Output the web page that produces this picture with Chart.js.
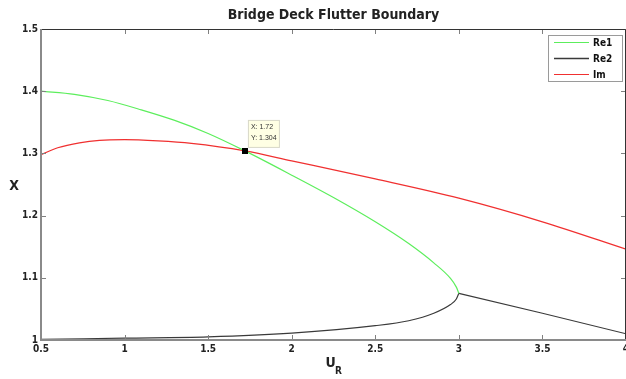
<!DOCTYPE html>
<html>
<head>
<meta charset="utf-8">
<script src="https://cdn.jsdelivr.net/npm/chart.js@4.4.1/dist/chart.umd.min.js"></script>
<style>
  html, body { margin: 0; padding: 0; background: #fff; }
  #wrap { width: 626px; height: 379px; }
</style>
</head>
<body>
<div id="wrap"><canvas id="chart" width="626" height="379"></canvas></div>
<script>
// values
const re1U = [0.5, 0.7, 0.9, 1.1, 1.3, 1.5, 1.72, 2.0, 2.25, 2.5, 2.7, 2.85, 2.95, 2.985, 3.0];
const re1X = [1.400, 1.395, 1.385, 1.370, 1.353, 1.332, 1.304, 1.265, 1.229, 1.190, 1.155, 1.124, 1.099, 1.085, 1.075];

const re2U = [0.5, 1.0, 1.5, 2.0, 2.5, 2.7, 2.85, 2.95, 2.985, 3.0];
const re2X = [1.001, 1.003, 1.005, 1.011, 1.023, 1.031, 1.043, 1.057, 1.066, 1.075];
const re2TailU = [3.0, 3.5, 4.0];
const re2TailX = [1.075, 1.043, 1.010];

const imU = [0.5, 0.6, 0.73, 0.85, 1.0, 1.2, 1.4, 1.72, 2.0, 2.5, 3.0, 3.5, 4.0];
const imX = [1.298, 1.309, 1.317, 1.321, 1.322, 1.320, 1.316, 1.304, 1.288, 1.259, 1.228, 1.190, 1.146];

const tipU = [1.72];
const tipX = [1.304];

const xTicks = [0.5, 1, 1.5, 2, 2.5, 3, 3.5, 4];
const yTicks = [1, 1.1, 1.2, 1.3, 1.4, 1.5];

const legendNames = ['Re1', 'Re2', 'Im'];
const legendColors = ['#5cee5c', '#3a3a3a', '#f03030'];

const FONT = "'Liberation Sans Narrow', 'DejaVu Sans Condensed', 'Liberation Sans', Arial, sans-serif";

const pts = (us, xs) => us.map((u, i) => ({ x: u, y: xs[i] }));
const fmt = v => String(Number(v.toFixed(2)));

// frame, inside tick marks, tick labels, title, axis names, legend and data tip
const decorPlugin = {
    id: 'decor',
    afterDatasetsDraw(chart) {
        const ctx = chart.ctx;
        const a = chart.chartArea;
        const xs = chart.scales.x;
        const ys = chart.scales.y;
        ctx.save();

        // tick marks pointing inward
        ctx.strokeStyle = '#808080';
        ctx.lineWidth = 1;
        ctx.beginPath();
        xTicks.forEach(v => {
            const px = Math.round(xs.getPixelForValue(v)) + 0.5;
            ctx.moveTo(px, a.bottom); ctx.lineTo(px, a.bottom - 5);
            ctx.moveTo(px, a.top); ctx.lineTo(px, a.top + 5);
        });
        yTicks.forEach(v => {
            const py = Math.round(ys.getPixelForValue(v)) + 0.5;
            ctx.moveTo(a.left, py); ctx.lineTo(a.left + 5, py);
            ctx.moveTo(a.right, py); ctx.lineTo(a.right - 5, py);
        });
        ctx.stroke();

        // frame
        ctx.strokeStyle = '#333';
        ctx.lineWidth = 1;
        ctx.beginPath();
        ctx.moveTo(a.left, a.top + 0.5); ctx.lineTo(a.right - 0.5, a.top + 0.5);
        ctx.lineTo(a.right - 0.5, a.bottom);
        ctx.stroke();
        ctx.strokeStyle = '#8a8a8a';
        ctx.lineWidth = 2;
        ctx.beginPath();
        ctx.moveTo(a.left, a.top); ctx.lineTo(a.left, a.bottom);
        ctx.lineTo(a.right, a.bottom);
        ctx.stroke();

        // tick labels
        ctx.fillStyle = '#222';
        ctx.font = 'bold 10px ' + FONT;
        ctx.textBaseline = 'middle';
        ctx.textAlign = 'center';
        xTicks.forEach(v => {
            ctx.fillText(fmt(v), xs.getPixelForValue(v), a.bottom + 9);
        });
        ctx.textAlign = 'right';
        yTicks.forEach(v => {
            ctx.fillText(fmt(v), a.left - 3, ys.getPixelForValue(v));
        });

        // data tip
        const px = xs.getPixelForValue(tipU[0]);
        const py = ys.getPixelForValue(tipX[0]);
        ctx.fillStyle = '#ffffe4';
        ctx.strokeStyle = '#d8d8c8';
        ctx.lineWidth = 1;
        ctx.fillRect(px + 3.5, py - 30.5, 31, 27);
        ctx.strokeRect(px + 3.5, py - 30.5, 31, 27);
        ctx.fillStyle = '#333';
        ctx.font = "7px 'Liberation Sans', Arial, sans-serif";
        ctx.textAlign = 'left';
        ctx.fillText('X: ' + tipU[0], px + 6, py - 24);
        ctx.fillText('Y: ' + tipX[0], px + 6, py - 13);
        ctx.fillStyle = '#000';
        ctx.fillRect(Math.round(px) - 3, Math.round(py) - 3, 6, 6);

        // legend box
        const lx = a.right - 78, ly = a.top + 6;
        ctx.fillStyle = '#fff';
        ctx.fillRect(lx, ly, 74, 46);
        ctx.strokeStyle = '#9a9a9a';
        ctx.lineWidth = 1;
        ctx.strokeRect(lx + 0.5, ly + 0.5, 74, 46);
        ctx.font = 'bold 10px ' + FONT;
        legendNames.forEach((name, i) => {
            const y = ly + 7 + i * 16;
            ctx.strokeStyle = legendColors[i];
            ctx.lineWidth = i === 1 ? 1.5 : 1;
            ctx.beginPath();
            ctx.moveTo(lx + 6, y + 0.5); ctx.lineTo(lx + 41, y + 0.5);
            ctx.stroke();
            ctx.fillStyle = '#111';
            ctx.fillText(name, lx + 45, y + 1);
        });

        // title
        ctx.fillStyle = '#222';
        ctx.textAlign = 'center';
        ctx.font = 'bold 14px ' + FONT;
        ctx.fillText('Bridge Deck Flutter Boundary', (a.left + a.right) / 2, 15);

        // axis names
        const ux = (a.left + a.right) / 2 - 3;
        ctx.fillText('U', ux, 363);
        ctx.font = 'bold 10px ' + FONT;
        ctx.fillText('R', ux + 8, 371);
        ctx.font = 'bold 14px ' + FONT;
        ctx.fillText('X', 14, 186);

        ctx.restore();
    }
};

new Chart(document.getElementById('chart'), {
    type: 'line',
    data: {
        datasets: [
            { label: 'Re1', data: pts(re1U, re1X), borderColor: legendColors[0], borderWidth: 1.2, cubicInterpolationMode: 'monotone' },
            { label: 'Re2', data: pts(re2U, re2X), borderColor: legendColors[1], borderWidth: 1.2, cubicInterpolationMode: 'monotone' },
            { label: 'Re2 tail', data: pts(re2TailU, re2TailX), borderColor: legendColors[1], borderWidth: 1.2, tension: 0 },
            { label: 'Im', data: pts(imU, imX), borderColor: legendColors[2], borderWidth: 1.2, cubicInterpolationMode: 'monotone' }
        ].map(d => Object.assign({ pointRadius: 0, fill: false }, d))
    },
    options: {
        responsive: false,
        animation: false,
        layout: { padding: { top: 29, right: -4, left: 0, bottom: 0 } },
        plugins: {
            legend: { display: false },
            tooltip: { enabled: false },
            title: { display: false }
        },
        scales: {
            x: {
                type: 'linear',
                min: 0.5,
                max: 4,
                afterFit: s => { s.height = 39; },
                afterBuildTicks: s => { s.ticks = xTicks.map(v => ({ value: v })); },
                grid: { display: false },
                border: { display: false },
                ticks: { display: false }
            },
            y: {
                min: 1,
                max: 1.5,
                afterFit: s => { s.width = 41; },
                afterBuildTicks: s => { s.ticks = yTicks.map(v => ({ value: v })); },
                grid: { display: false },
                border: { display: false },
                ticks: { display: false }
            }
        }
    },
    plugins: [decorPlugin]
});
</script>
</body>
</html>
